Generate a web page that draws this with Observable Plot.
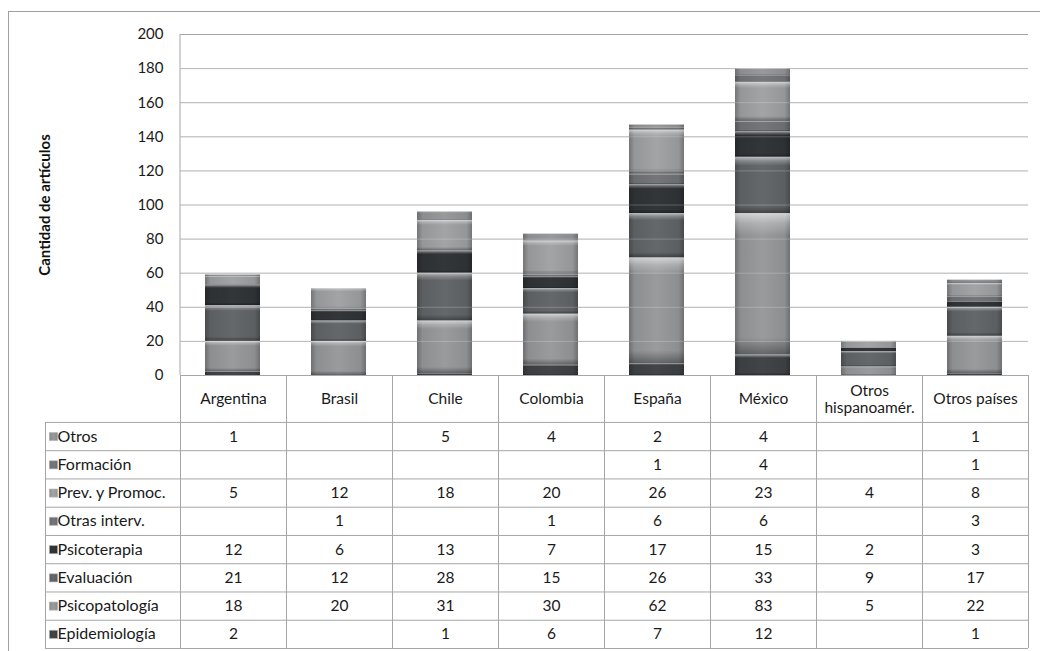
<!DOCTYPE html>
<html><head><meta charset="utf-8">
<script src="https://cdn.jsdelivr.net/npm/d3@7"></script>
<script src="https://cdn.jsdelivr.net/npm/@observablehq/plot@0.6"></script>
<style>
body{margin:0;background:#fff;font-family:Lato,"Open Sans",sans-serif;}
#wrap{position:relative;width:1040px;height:651px;overflow:hidden;}
#frame{position:absolute;left:8px;top:11px;width:1080px;height:700px;border:1px solid #a0a0a0;}
#chart{position:absolute;left:0;top:0;z-index:2;}
#chart svg{background:transparent !important;overflow:visible;}
#table{position:absolute;left:0;top:375px;z-index:1;}
#defs{position:absolute;width:0;height:0;}
</style></head><body>
<svg id="defs" width="0" height="0"></svg>
<div id="wrap"><div id="frame"></div><div id="chart"></div><div id="table"></div></div>
<script>
// ---- data ----
const categories = ["Argentina","Brasil","Chile","Colombia","España","México","Otros hispanoamér.","Otros países"];
const categoryLabels = ["Argentina","Brasil","Chile","Colombia","España","México","Otros\nhispanoamér.","Otros países"];
// series from bottom of stack to top
const series = ["Epidemiología","Psicopatología","Evaluación","Psicoterapia","Otras interv.","Prev. y Promoc.","Formación","Otros"];
const epidemiologia  = [2, null, 1, 6, 7, 12, null, 1];
const psicopatologia = [18, 20, 31, 30, 62, 83, 5, 22];
const evaluacion     = [21, 12, 28, 15, 26, 33, 9, 17];
const psicoterapia   = [12, 6, 13, 7, 17, 15, 2, 3];
const otrasInterv    = [null, 1, null, 1, 6, 6, null, 3];
const prevPromoc     = [5, 12, 18, 20, 26, 23, 4, 8];
const formacion      = [null, null, null, null, 1, 4, null, 1];
const otros          = [1, null, 5, 4, 2, 4, null, 1];
const seriesColors = ["#3c3f42","#8c8e90","#5c5f62","#2e3134","#6a6c6f","#949698","#6c6e71","#8a8c8e"];
const yTicks = [0,20,40,60,80,100,120,140,160,180,200];
const yTitle = "Cantidad de artículos";

const seriesValues = [epidemiologia, psicopatologia, evaluacion, psicoterapia, otrasInterv, prevPromoc, formacion, otros];

// ---- gradients (bevel look) ----
const defs = d3.select("#defs").append("defs");
seriesColors.forEach((c, i) => {
  const g = defs.append("linearGradient").attr("id", "g" + i).attr("x1", 0).attr("x2", 1).attr("y1", 0).attr("y2", 0);
  const dk = d3.color(c).darker(0.7).formatHex();
  const lt = d3.color(c).brighter(0.25).formatHex();
  [[0, dk], [0.1, c], [0.5, lt], [0.9, c], [1, dk]].forEach(([o, col]) =>
    g.append("stop").attr("offset", o).attr("stop-color", col));
});
const bev = defs.append("linearGradient").attr("id", "bevel").attr("x1", 0).attr("x2", 0).attr("y1", 0).attr("y2", 1);
[[0, "#fff", 0.6], [0.07, "#fff", 0.25], [0.16, "#fff", 0], [0.88, "#000", 0], [1, "#000", 0.35]].forEach(([o, col, op]) =>
  bev.append("stop").attr("offset", o).attr("stop-color", col).attr("stop-opacity", op));

// ---- rows for stacking ----
const rows = [];
series.forEach((s, si) => categories.forEach((c, ci) => {
  rows.push({serie: s, si, cat: c, ci, value: seriesValues[si][ci]});
}));

const font = {fontFamily: "Lato, 'Open Sans', sans-serif", fontSize: "15px", color: "#1a1a1a"};

const chart = Plot.plot({
  width: 1040, height: 392,
  marginLeft: 180, marginRight: 12, marginTop: 34, marginBottom: 17,
  style: font,
  x: {domain: categories, paddingInner: 0.48, paddingOuter: 0.24, axis: null},
  y: {domain: [0, 200], ticks: yTicks, tickSize: 0, tickPadding: 17, label: null, tickFormat: d => d},
  marks: [
    Plot.ruleY(yTicks, {stroke: "#a6a6a6", strokeWidth: 1}),
    Plot.ruleX([categories[0]], {dx: -53, stroke: "#a6a6a6", y1: 0, y2: 200}),
    Plot.barY(rows, Plot.stackY({x: "cat", y: d => d.value ?? 0, fill: d => `url(#g${d.si})`})),
    Plot.barY(rows, Plot.stackY({x: "cat", y: d => d.value ?? 0, fill: "url(#bevel)"})),
    Plot.ruleY(yTicks.filter(t => t > 0 && t < 200), {stroke: "#fff", strokeOpacity: 0.22}),
    Plot.text([yTitle], {frameAnchor: "left", dx: -135, rotate: -90, textAnchor: "middle", fontWeight: "bold", fontSize: 15, fill: "#111"})
  ]
});
document.getElementById("chart").appendChild(chart);

// ---- data table below ----
const legendLeft = -135 / 106;
const headerTop = -47 / 28.3;
const nRows = series.length;
const tableRows = series.map((s, si) => ({serie: s, si, row: nRows - 1 - si}));
const cells = rows.filter(d => d.value != null).map(d => ({...d, row: nRows - 1 - d.si}));

const table = Plot.plot({
  width: 1040, height: 276, margin: 0,
  style: font,
  x: {type: "linear", domain: [legendLeft, categories.length], range: [45, 1028], axis: null},
  y: {type: "linear", domain: [headerTop, nRows], range: [0, 273], axis: null},
  marks: [
    Plot.ruleY(d3.range(nRows + 1), {x1: legendLeft, x2: categories.length, stroke: "#a6a6a6"}),
    Plot.ruleX(d3.range(categories.length + 1), {y1: headerTop, y2: nRows, stroke: "#a6a6a6"}),
    Plot.ruleX([legendLeft], {y1: 0, y2: nRows, stroke: "#a6a6a6"}),
    Plot.text(categories, {x: (d, i) => i + 0.5, y: () => headerTop / 2, text: (d, i) => categoryLabels[i], fontSize: 15.5, lineHeight: 1.1, fill: "#1a1a1a"}),
    Plot.dot(tableRows, {x: () => legendLeft, y: d => d.row + 0.5, dx: 8, symbol: "square", r: 4.6, fill: d => `url(#g${d.si})`, stroke: "#b8b8b8", strokeWidth: 0.6}),
    Plot.text(tableRows, {x: () => legendLeft, y: d => d.row + 0.5, dx: 12, text: "serie", textAnchor: "start", fontSize: 16, fill: "#1a1a1a"}),
    Plot.text(cells, {x: d => d.ci + 0.5, y: d => d.row + 0.5, text: d => String(d.value), fontSize: 15.5, fill: "#1a1a1a"})
  ]
});
document.getElementById("table").appendChild(table);
</script>
</body></html>
